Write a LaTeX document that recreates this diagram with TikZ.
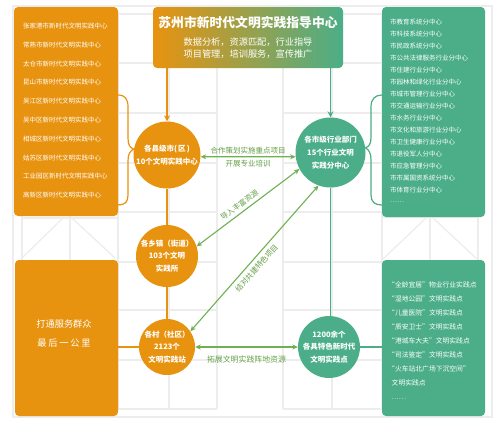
\documentclass[tikz,border=0pt]{standalone}
\usepackage{fontspec}
\setmainfont{Noto Sans CJK SC}
\usetikzlibrary{arrows.meta,calc}
\definecolor{org}{HTML}{E8930F}
\definecolor{grn}{HTML}{4BAE88}
\definecolor{arrg}{HTML}{6FB052}
\definecolor{lblg}{HTML}{66A047}
\definecolor{gridc}{HTML}{EDEDED}
\begin{document}
\begin{tikzpicture}[x=1pt, y=-1pt,
  box/.style={rectangle, rounded corners=4pt, inner sep=0pt, draw=none},
  circ/.style={circle, inner sep=0pt, text=white, align=center, font=\fontsize{7.5}{12.8}\selectfont\bfseries},
  listitem/.style={anchor=west, text=white, inner sep=0pt, font=\fontsize{6.5}{7}\selectfont},
  biarrow/.style={draw=arrg, line width=1.1pt, {Stealth[length=5.5pt,width=5pt]}-{Stealth[length=5.5pt,width=5pt]}},
  downarrow/.style={line width=1.4pt, -{Stealth[length=6pt,width=6pt]}},
  lab/.style={text=lblg, font=\fontsize{7.5}{8}\selectfont, inner sep=1pt},
  bracestyle/.style={line width=1.2pt},
  gridline/.style={draw=gridc, line width=1.2pt}]
\useasboundingbox (0,0) rectangle (500,424);
\fill[white] (0,0) rectangle (500,424);

% background grid
\begin{scope}[gridline]
  \draw (13,6) rectangle (492,417);
  \foreach \x in {22,70,118,169,217,283,332,382,430,478} \draw (\x,14) -- (\x,409);
  \foreach \y in {14,63,113,163,212,262,310,360,409} {
    \draw (118,\y) -- (217,\y);
    \draw (283,\y) -- (382,\y);
  }
  \draw (22,218) -- (118,218);
  \draw (382,217) -- (478,217);
  \draw (22,258) -- (63,218);
  \draw (72,218) -- (115,258);
  \draw (383,259) -- (427,217);
  \draw (432,217) -- (477,259);
\end{scope}

% boxes
\node[box, fill=org, minimum width=104, minimum height=209] (lbox) at (66,111.5) {};
\node[box, fill=grn, minimum width=103, minimum height=210] (rbox) at (433.5,112) {};
\node[box, fill=org, minimum width=103, minimum height=156] (lbox2) at (66.5,338) {};
\node[box, fill=grn, minimum width=103, minimum height=156] (rbox2) at (433.5,338) {};
\node[box, left color=org, right color=grn, minimum width=190, minimum height=61] (title) at (248,37.5) {};

% title texts
\node[text=white, inner sep=0pt, font=\fontsize{12.8}{14}\selectfont\bfseries] (tt) at (248,23) {苏州市新时代文明实践指导中心};
\node[text=white, inner sep=0pt, align=center, font=\fontsize{9.2}{12.5}\selectfont] (ts) at (248,48) {数据分析，资源匹配，行业指导\\项目管理，培训服务，宣传推广};

% left list
\foreach \t [count=\i] in {张家港市新时代文明实践中心,常熟市新时代文明实践中心,太仓市新时代文明实践中心,昆山市新时代文明实践中心,吴江区新时代文明实践中心,吴中区新时代文明实践中心,相城区新时代文明实践中心,姑苏区新时代文明实践中心,工业园区新时代文明实践中心,高新区新时代文明实践中心}
  \node[listitem] (L\i) at (23,{26+18.8*(\i-1)}) {\t};

% right list
\foreach \t [count=\i] in {市教育系统分中心,市科技系统分中心,市民政系统分中心,市公共法律服务行业分中心,市住建行业分中心,市园林和绿化行业分中心,市城市管理行业分中心,市交通运输行业分中心,市水务行业分中心,市文化和旅游行业分中心,市卫生健康行业分中心,市退役军人分中心,市应急管理分中心,市市属国资系统分中心,市体育行业分中心,……}
  \node[listitem] (R\i) at (390,{22+12*(\i-1)}) {\t};

% bottom right list
\node[listitem, font=\fontsize{6.8}{7}\selectfont] (B1) at (388,285) {“全龄宜居”物业行业实践点};
\node[listitem, font=\fontsize{6.8}{7}\selectfont] (B2) at (388,299) {“湿地公园”文明实践点};
\node[listitem, font=\fontsize{6.8}{7}\selectfont] (B3) at (388,313) {“儿童医院”文明实践点};
\node[listitem, font=\fontsize{6.8}{7}\selectfont] (B4) at (388,327) {“质安卫士”文明实践点};
\node[listitem, font=\fontsize{6.8}{7}\selectfont] (B5) at (388,341) {“港城车大夫”文明实践点};
\node[listitem, font=\fontsize{6.8}{7}\selectfont] (B6) at (388,355) {“司法鉴定”文明实践点};
\node[listitem, font=\fontsize{6.8}{7}\selectfont] (B7) at (388,369) {“火车站北广场下沉空间”};
\node[listitem, font=\fontsize{6.8}{7}\selectfont] (B8) at (391.5,383) {文明实践点};
\node[listitem, font=\fontsize{6.8}{7}\selectfont] (B9) at (391.5,399) {……};

% bottom left text
\node[text=white, inner sep=0pt, font=\fontsize{9.2}{10}\selectfont] (bl1) at (64,324) {打通服务群众};
\node[text=white, inner sep=0pt, font=\fontsize{9.2}{10}\selectfont] (bl2) at (64,343) {最\hspace{1.8pt}后\hspace{1.8pt}一\hspace{1.8pt}公\hspace{1.8pt}里};

% circles
\node[circ, fill=org, minimum size=67] (c1) at (167,155) {各县级市(\,区\,)\\10个文明实践中心};
\node[circ, fill=grn, minimum size=70] (g1) at (330.5,152.5) {各市级行业部门\\15个行业文明\\实践分中心};
\node[circ, fill=org, minimum size=62] (c2) at (167,256) {各乡镇（街道）\\103个文明\\实践所};
\node[circ, fill=org, minimum size=56] (c3) at (167,347) {各村（社区）\\2123个\\文明实践站};
\node[circ, fill=grn, minimum size=58] (c4) at (329,347) {1200余个\\各具特色新时代\\文明实践点};

% vertical connectors
\draw[downarrow, org] (title.south -| c1) -- (c1);
\draw[downarrow, grn] (title.south -| g1) -- (g1);
\draw[org, line width=1.4pt] (c1) -- (c2);
\draw[org, line width=1.4pt] (c2) -- (c3);
\draw[grn, line width=1.4pt] (g1.south) -- (g1.south |- c4.north);
\draw[org, line width=1.4pt] (lbox2.east |- c3) -- (c3);
\draw[grn, line width=1.4pt] (c4) -- (rbox2.west |- c4);

% braces
\coordinate (lbt) at (118,95);
\coordinate (lbb) at (118,205);
\draw[org, bracestyle] (lbt) .. controls (125,95) and (128,99) .. (128,107) -- (128,138)
  .. controls (128,145) and (130,148) .. (c1.170)
  .. controls (130,151) and (128,154) .. (128,161) -- (128,195)
  .. controls (128,202) and (125,205) .. (lbb);
\coordinate (rbt) at (382,95);
\coordinate (rbb) at (382,205);
\draw[grn, bracestyle] (rbt) .. controls (375,95) and (371,99) .. (371,107) -- (371,137)
  .. controls (371,144) and (369,147) .. (g1.8)
  .. controls (369,150) and (371,153) .. (371,160) -- (371,195)
  .. controls (371,202) and (375,205) .. (rbb);

% green arrows
\draw[biarrow] (c1.-3) -- (g1.187)
  node[lab, midway, above=1.5pt] (la1) {合作策划实施重点项目}
  node[lab, midway, below=1.5pt] (la2) {开展专业培训};
\draw[biarrow] (c2.18) -- (g1.208)
  node[lab, pos=0.46, sloped, above=2.5pt] (la3) {导入丰富资源};
\draw[biarrow] (c3.34) -- (g1.250)
  node[lab, pos=0.47, sloped, below=3pt] (la4) {结对共建特色项目};
\draw[biarrow] (c3) -- (c4)
  node[lab, midway, below=7pt, font=\fontsize{7.9}{8}\selectfont] (la5) {拓展文明实践阵地资源};
\end{tikzpicture}
\end{document}
